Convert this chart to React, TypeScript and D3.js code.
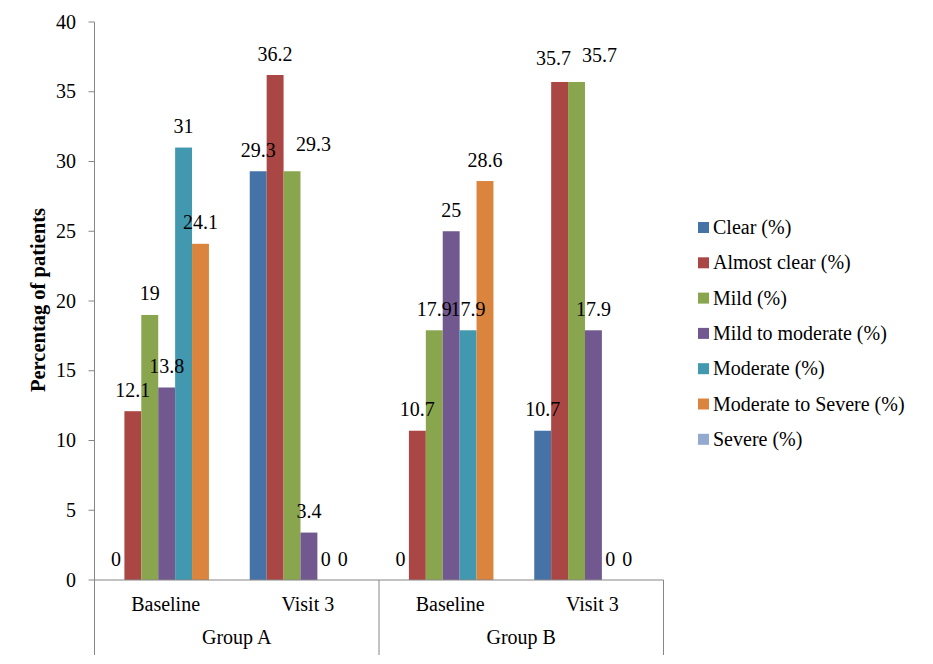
import React from "react";
import * as d3 from "d3";

const categories = ["Baseline", "Visit 3", "Baseline", "Visit 3"];
const groups = ["Group A", "Group B"];
const seriesNames = [
  "Clear (%)",
  "Almost clear (%)",
  "Mild (%)",
  "Mild to moderate (%)",
  "Moderate (%)",
  "Moderate to Severe (%)",
  "Severe (%)",
];
const clear = [0, 29.3, 0, 10.7];
const almostClear = [12.1, 36.2, 10.7, 35.7];
const mild = [19, 29.3, 17.9, 35.7];
const mildToModerate = [13.8, 3.4, 25, 17.9];
const moderate = [31, 0, 17.9, 0];
const moderateToSevere = [24.1, 0, 28.6, 0];
const severe: (number | null)[] = [null, null, null, null];
const seriesValues: (number | null)[][] = [
  clear,
  almostClear,
  mild,
  mildToModerate,
  moderate,
  moderateToSevere,
  severe,
];
const colors = ["#4572A7", "#AA4643", "#89A54E", "#71588F", "#4198AF", "#DB843D", "#93A9CF"];
const yTicks = [0, 5, 10, 15, 20, 25, 30, 35, 40];

// label nudges (layout only): key = "series-category"
const labelNudge: Record<string, [number, number]> = {
  "2-1": [21.5, -6],
  "1-3": [-6, -2],
  "2-3": [23, -5],
};

const W = 933;
const H = 664;
const FONT = "'Liberation Serif', 'Times New Roman', serif";
const AXIS = "#868686";

export default function App() {
  const left = 94.5;
  const right = 663.5;
  const top = 22;
  const bottom = 580;
  const y = d3.scaleLinear().domain([0, 40]).range([bottom, top]);
  const catIdx = categories.map((_, i) => i);
  const x0 = d3.scaleBand<number>().domain(catIdx).range([left, right]).padding(0);
  const bw = x0.bandwidth();
  const x1 = d3
    .scaleBand<number>()
    .domain(seriesNames.map((_, i) => i))
    .range([bw * 0.0914, bw * (0.0914 + 0.832)])
    .padding(0);
  const barW = x1.bandwidth();
  const groupScale = d3.scaleBand<number>().domain([0, 1]).range([left, right]).padding(0);

  return (
    <svg
      width={W}
      height={H}
      style={{ position: "absolute", left: 0, top: 0, background: "#fff", fontFamily: FONT }}
    >
      <rect x={0} y={0} width={W} height={H} fill="#fff" />
      {/* bars */}
      {seriesValues.map((vals, s) =>
        vals.map((v, c) =>
          v === null ? null : (
            <rect
              key={`b${s}-${c}`}
              x={(x0(c) as number) + (x1(s) as number)}
              y={y(v)}
              width={barW}
              height={bottom - y(v)}
              fill={colors[s]}
            />
          )
        )
      )}
      {/* value labels */}
      {seriesValues.map((vals, s) =>
        vals.map((v, c) => {
          if (v === null) return null;
          const [dx, dy] = labelNudge[`${s}-${c}`] || [0, 0];
          return (
            <text
              key={`l${s}-${c}`}
              x={(x0(c) as number) + (x1(s) as number) + barW / 2 + dx}
              y={y(v) - 14.5 + dy}
              textAnchor="middle"
              fontSize={20}
              fill="#000"
            >
              {String(v)}
            </text>
          );
        })
      )}
      {/* y axis */}
      <line x1={left} x2={left} y1={top} y2={bottom} stroke={AXIS} strokeWidth={1} />
      {yTicks.map((t) => (
        <g key={`t${t}`}>
          <line x1={left - 6} x2={left} y1={y(t)} y2={y(t)} stroke={AXIS} />
          <text x={76} y={y(t) + 6.5} textAnchor="end" fontSize={20} fill="#000">
            {t}
          </text>
        </g>
      ))}
      {/* x axis */}
      <line x1={left} x2={right} y1={bottom} y2={bottom} stroke={AXIS} />
      {[0, 1, 2].map((g) => {
        const gx = g < 2 ? (groupScale(g) as number) : right;
        return <line key={`g${g}`} x1={gx} x2={gx} y1={bottom} y2={655} stroke={AXIS} />;
      })}
      {categories.map((c, i) => (
        <text
          key={`c${i}`}
          x={(x0(i) as number) + bw / 2}
          y={611}
          textAnchor="middle"
          fontSize={20}
          fill="#000"
        >
          {c}
        </text>
      ))}
      {groups.map((g, i) => (
        <text
          key={`gr${i}`}
          x={(groupScale(i) as number) + groupScale.bandwidth() / 2}
          y={644}
          textAnchor="middle"
          fontSize={20}
          fill="#000"
        >
          {g}
        </text>
      ))}
      {/* y title */}
      <text
        transform={`translate(45, 300) rotate(-90)`}
        textAnchor="middle"
        fontSize={20.5}
        fontWeight="bold"
        fill="#000"
      >
        Percentag of patients
      </text>
      {/* legend */}
      {seriesNames.map((n, i) => (
        <g key={`lg${i}`} transform={`translate(698, ${227 + i * 35.3})`}>
          <rect x={0} y={-5} width={11} height={11} fill={colors[i]} />
          <text x={15} y={7} fontSize={20} fill="#000">
            {n}
          </text>
        </g>
      ))}
    </svg>
  );
}
